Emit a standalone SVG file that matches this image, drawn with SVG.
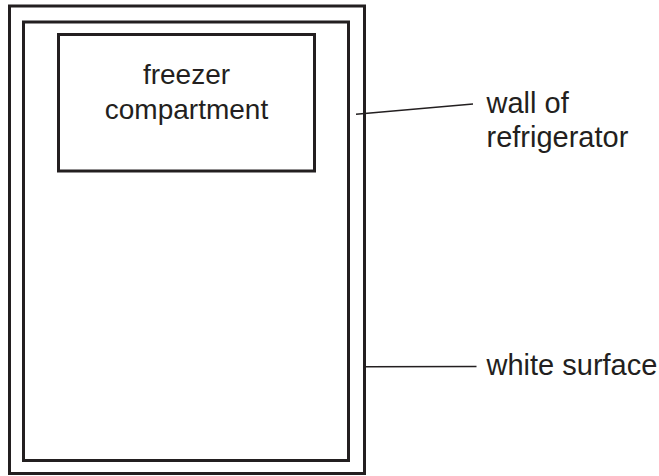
<svg xmlns="http://www.w3.org/2000/svg" width="659" height="476" viewBox="0 0 659 476">
  <style>
    .box { fill: none; stroke: #231f20; stroke-width: 3; }
    .lead { fill: none; stroke: #231f20; stroke-width: 1.5; }
    .t { font-family: "Liberation Sans", Arial, sans-serif; font-size: 28px; fill: #231f20; }
    .r { font-size: 29px; }
  </style>
  <rect width="659" height="476" fill="#ffffff"/>
  <g id="outer-wall">
    <rect class="box" x="9.5" y="6" width="355" height="467.5"/>
  </g>
  <g id="white-surface">
    <rect class="box" x="23.5" y="22" width="325" height="438.5"/>
  </g>
  <g id="freezer">
    <rect class="box" x="58.5" y="34.5" width="256" height="136.5"/>
    <text class="t" x="186.5" y="83.5" text-anchor="middle">freezer</text>
    <text class="t" x="186.5" y="118.5" text-anchor="middle">compartment</text>
  </g>
  <g id="label-wall">
    <text class="t r" x="486.5" y="113">wall of</text>
    <text class="t r" x="486.5" y="146.5">refrigerator</text>
  </g>
  <g id="label-surface">
    <text class="t r" x="486.5" y="375">white surface</text>
  </g>
  <g id="connectors">
    <line class="lead" x1="356" y1="114.3" x2="473" y2="104"/>
    <line class="lead" x1="366" y1="366.7" x2="476.5" y2="366.5"/>
  </g>
</svg>
